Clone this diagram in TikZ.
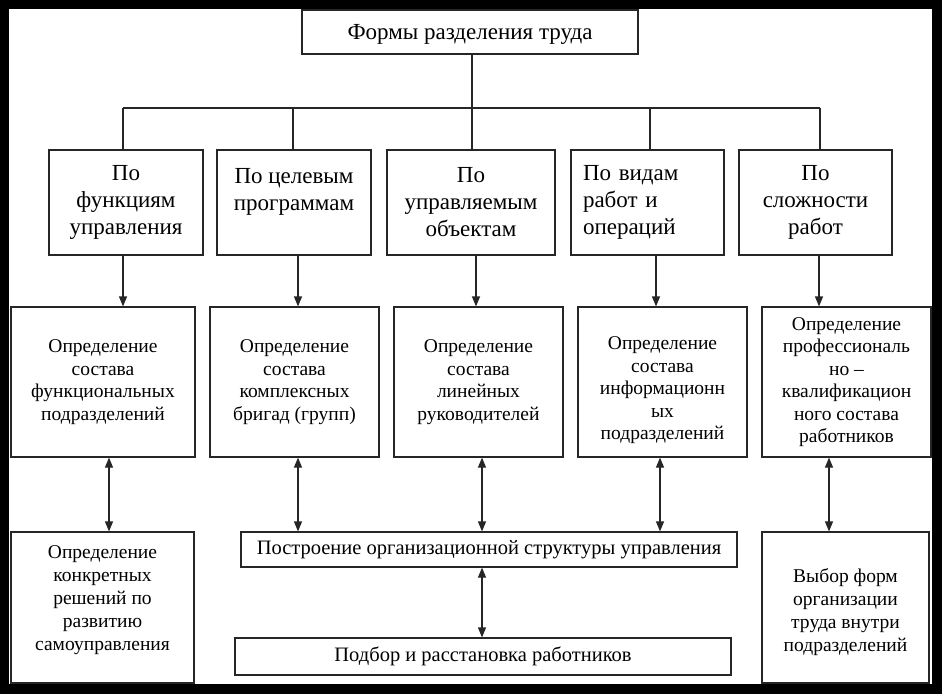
\documentclass[tikz,border=0pt]{standalone}
\usepackage{fontspec}
\setmainfont{Liberation Serif}
\usetikzlibrary{arrows.meta}
\begin{document}
\begin{tikzpicture}[x=1pt,y=-1pt,
  box/.style={draw=black!85, line width=1.2pt, rectangle, inner sep=4pt, align=center, fill=white},
  fa/.style={font=\fontsize{23}{27}\selectfont},
  fb/.style={font=\fontsize{19.5}{22.5}\selectfont},
  fc/.style={font=\fontsize{19.5}{23}\selectfont},
  fd/.style={font=\fontsize{20.5}{24}\selectfont},
  ln/.style={draw=black!85, line width=1.2pt},
  arr/.style={ln, -{Triangle[length=10pt,width=8pt]}},
  darr/.style={ln, {Triangle[length=10pt,width=8pt]}-{Triangle[length=10pt,width=8pt]}}
]
\useasboundingbox (0,0) rectangle (942,694);
\fill[black] (0,0) rectangle (942,694);
\fill[white] (9,9) rectangle (932,684);

% title
\node[box, minimum width=336pt, minimum height=44pt, font=\fontsize{23}{27}\selectfont] (top) at (470,32) {\rule{0pt}{20pt}Формы разделения труда};

% row 1
\node[box, fa, minimum width=154pt, minimum height=105pt] (r1a) at (126,202.5) {По\\функциям\\управления};
\node[box, fa, minimum width=154pt, minimum height=105pt] (r1b) at (294,202.5) {По целевым\\программам\\~};
\node[box, fa, minimum width=168pt, minimum height=105pt] (r1c) at (471,202.5) {По\\управляемым\\объектам};
\node[box, fa, minimum width=153pt, minimum height=105pt, text width=129pt, inner xsep=12pt, align=left] (r1d) at (647.5,202.5) {По видам\\работ и\\операций};
\node[box, fa, minimum width=153pt, minimum height=105pt] (r1e) at (815.5,202.5) {По\\сложности\\работ};

% row 2
\node[box, fb, minimum width=184pt, minimum height=150pt] (r2a) at (103,382) {Определение\\состава\\функциональных\\подразделений};
\node[box, fb, minimum width=169pt, minimum height=150pt] (r2b) at (294.5,382) {Определение\\состава\\комплексных\\бригад (групп)};
\node[box, fb, minimum width=169pt, minimum height=150pt] (r2c) at (478.5,382) {Определение\\состава\\линейных\\руководителей};
\node[box, fb, minimum width=169pt, minimum height=150pt] (r2d) at (662.5,382) {\rule{0pt}{30pt}Определение\\состава\\информационн\\ых\\подразделений};
\node[box, fb, minimum width=169pt, minimum height=150pt] (r2e) at (846.5,382) {Определение\\профессиональ\\но –\\квалификацион\\ного состава\\работников};

% row 3
\node[box, fc, minimum width=183pt, minimum height=151pt] (r3a) at (102.5,607.5) {Определение\\конкретных\\решений по\\развитию\\самоуправления\rule[-19pt]{0pt}{1pt}};
\node[box, fd, minimum width=496pt, minimum height=35pt] (r3b) at (489,549.5) {Построение организационной структуры управления};
\node[box, fc, minimum width=167pt, minimum height=151pt] (r3c) at (845.5,607.5) {\rule{0pt}{24pt}Выбор форм\\организации\\труда внутри\\подразделений};
\node[box, fd, minimum width=496pt, minimum height=37pt] (r4) at (483,656.5) {Подбор и расстановка работников};

% bus
\coordinate (j) at (472,108);
\coordinate (b1) at (123,108);
\coordinate (b2) at (293,108);
\coordinate (b3) at (472,108);
\coordinate (b4) at (650,108);
\coordinate (b5) at (820,108);
\draw[ln] (top.south -| j) -- (j);
\draw[ln] (b1) -- (b5);
\draw[ln] (b1) -- (b1 |- r1a.north);
\draw[ln] (b2) -- (b2 |- r1b.north);
\draw[ln] (b3) -- (b3 |- r1c.north);
\draw[ln] (b4) -- (b4 |- r1d.north);
\draw[ln] (b5) -- (b5 |- r1e.north);

% row1 -> row2
\coordinate (a1) at (123,0);
\coordinate (a2) at (298,0);
\coordinate (a3) at (476,0);
\coordinate (a4) at (656,0);
\coordinate (a5) at (819,0);
\draw[arr] (r1a.south -| a1) -- (r2a.north -| a1);
\draw[arr] (r1b.south -| a2) -- (r2b.north -| a2);
\draw[arr] (r1c.south -| a3) -- (r2c.north -| a3);
\draw[arr] (r1d.south -| a4) -- (r2d.north -| a4);
\draw[arr] (r1e.south -| a5) -- (r2e.north -| a5);

% row2 <-> row3
\coordinate (c1) at (109,0);
\coordinate (c2) at (298,0);
\coordinate (c3) at (482,0);
\coordinate (c4) at (660,0);
\coordinate (c5) at (829,0);
\draw[darr] (r2a.south -| c1) -- (r3a.north -| c1);
\draw[darr] (r2b.south -| c2) -- (r3b.north -| c2);
\draw[darr] (r2c.south -| c3) -- (r3b.north -| c3);
\draw[darr] (r2d.south -| c4) -- (r3b.north -| c4);
\draw[darr] (r2e.south -| c5) -- (r3c.north -| c5);
\draw[darr] (r3b.south -| c3) -- (r4.north -| c3);
\end{tikzpicture}
\end{document}
